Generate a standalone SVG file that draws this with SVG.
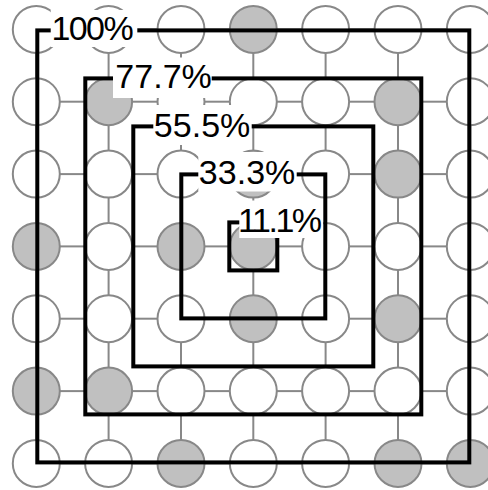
<svg xmlns="http://www.w3.org/2000/svg" width="488" height="490" viewBox="0 0 488 490">
<style>
.c{stroke:#888;stroke-width:2;fill:#fff}
.g{fill:#c0c0c0}
#connectors line{stroke:#888;stroke-width:2}
.sq{fill:none;stroke:#000;stroke-width:4;stroke-linejoin:miter}
.bg{fill:#fff}
.t{font-family:"Liberation Sans",Arial,Helvetica,sans-serif;font-size:34px;fill:#000}
</style>
<rect width="488" height="490" fill="#fff"/>
<g id="connectors">
<line x1="59.8" y1="29.4" x2="85.1" y2="29.4"/><line x1="132.1" y1="29.4" x2="157.5" y2="29.4"/><line x1="204.5" y1="29.4" x2="229.8" y2="29.4"/><line x1="276.8" y1="29.4" x2="302.1" y2="29.4"/><line x1="349.1" y1="29.4" x2="374.5" y2="29.4"/><line x1="421.5" y1="29.4" x2="446.8" y2="29.4"/>
<line x1="59.8" y1="101.7" x2="85.1" y2="101.7"/><line x1="132.1" y1="101.7" x2="157.5" y2="101.7"/><line x1="204.5" y1="101.7" x2="229.8" y2="101.7"/><line x1="276.8" y1="101.7" x2="302.1" y2="101.7"/><line x1="349.1" y1="101.7" x2="374.5" y2="101.7"/><line x1="421.5" y1="101.7" x2="446.8" y2="101.7"/>
<line x1="59.8" y1="174.1" x2="85.1" y2="174.1"/><line x1="132.1" y1="174.1" x2="157.5" y2="174.1"/><line x1="204.5" y1="174.1" x2="229.8" y2="174.1"/><line x1="276.8" y1="174.1" x2="302.1" y2="174.1"/><line x1="349.1" y1="174.1" x2="374.5" y2="174.1"/><line x1="421.5" y1="174.1" x2="446.8" y2="174.1"/>
<line x1="59.8" y1="246.4" x2="85.1" y2="246.4"/><line x1="132.1" y1="246.4" x2="157.5" y2="246.4"/><line x1="204.5" y1="246.4" x2="229.8" y2="246.4"/><line x1="276.8" y1="246.4" x2="302.1" y2="246.4"/><line x1="349.1" y1="246.4" x2="374.5" y2="246.4"/><line x1="421.5" y1="246.4" x2="446.8" y2="246.4"/>
<line x1="59.8" y1="318.7" x2="85.1" y2="318.7"/><line x1="132.1" y1="318.7" x2="157.5" y2="318.7"/><line x1="204.5" y1="318.7" x2="229.8" y2="318.7"/><line x1="276.8" y1="318.7" x2="302.1" y2="318.7"/><line x1="349.1" y1="318.7" x2="374.5" y2="318.7"/><line x1="421.5" y1="318.7" x2="446.8" y2="318.7"/>
<line x1="59.8" y1="391.1" x2="85.1" y2="391.1"/><line x1="132.1" y1="391.1" x2="157.5" y2="391.1"/><line x1="204.5" y1="391.1" x2="229.8" y2="391.1"/><line x1="276.8" y1="391.1" x2="302.1" y2="391.1"/><line x1="349.1" y1="391.1" x2="374.5" y2="391.1"/><line x1="421.5" y1="391.1" x2="446.8" y2="391.1"/>
<line x1="59.8" y1="463.4" x2="85.1" y2="463.4"/><line x1="132.1" y1="463.4" x2="157.5" y2="463.4"/><line x1="204.5" y1="463.4" x2="229.8" y2="463.4"/><line x1="276.8" y1="463.4" x2="302.1" y2="463.4"/><line x1="349.1" y1="463.4" x2="374.5" y2="463.4"/><line x1="421.5" y1="463.4" x2="446.8" y2="463.4"/>
<line x1="36.3" y1="52.9" x2="36.3" y2="78.2"/><line x1="36.3" y1="125.2" x2="36.3" y2="150.6"/><line x1="36.3" y1="197.6" x2="36.3" y2="222.9"/><line x1="36.3" y1="269.9" x2="36.3" y2="295.2"/><line x1="36.3" y1="342.2" x2="36.3" y2="367.6"/><line x1="36.3" y1="414.6" x2="36.3" y2="439.9"/>
<line x1="108.6" y1="52.9" x2="108.6" y2="78.2"/><line x1="108.6" y1="125.2" x2="108.6" y2="150.6"/><line x1="108.6" y1="197.6" x2="108.6" y2="222.9"/><line x1="108.6" y1="269.9" x2="108.6" y2="295.2"/><line x1="108.6" y1="342.2" x2="108.6" y2="367.6"/><line x1="108.6" y1="414.6" x2="108.6" y2="439.9"/>
<line x1="181" y1="52.9" x2="181" y2="78.2"/><line x1="181" y1="125.2" x2="181" y2="150.6"/><line x1="181" y1="197.6" x2="181" y2="222.9"/><line x1="181" y1="269.9" x2="181" y2="295.2"/><line x1="181" y1="342.2" x2="181" y2="367.6"/><line x1="181" y1="414.6" x2="181" y2="439.9"/>
<line x1="253.3" y1="52.9" x2="253.3" y2="78.2"/><line x1="253.3" y1="125.2" x2="253.3" y2="150.6"/><line x1="253.3" y1="197.6" x2="253.3" y2="222.9"/><line x1="253.3" y1="269.9" x2="253.3" y2="295.2"/><line x1="253.3" y1="342.2" x2="253.3" y2="367.6"/><line x1="253.3" y1="414.6" x2="253.3" y2="439.9"/>
<line x1="325.6" y1="52.9" x2="325.6" y2="78.2"/><line x1="325.6" y1="125.2" x2="325.6" y2="150.6"/><line x1="325.6" y1="197.6" x2="325.6" y2="222.9"/><line x1="325.6" y1="269.9" x2="325.6" y2="295.2"/><line x1="325.6" y1="342.2" x2="325.6" y2="367.6"/><line x1="325.6" y1="414.6" x2="325.6" y2="439.9"/>
<line x1="398" y1="52.9" x2="398" y2="78.2"/><line x1="398" y1="125.2" x2="398" y2="150.6"/><line x1="398" y1="197.6" x2="398" y2="222.9"/><line x1="398" y1="269.9" x2="398" y2="295.2"/><line x1="398" y1="342.2" x2="398" y2="367.6"/><line x1="398" y1="414.6" x2="398" y2="439.9"/>
<line x1="470.3" y1="52.9" x2="470.3" y2="78.2"/><line x1="470.3" y1="125.2" x2="470.3" y2="150.6"/><line x1="470.3" y1="197.6" x2="470.3" y2="222.9"/><line x1="470.3" y1="269.9" x2="470.3" y2="295.2"/><line x1="470.3" y1="342.2" x2="470.3" y2="367.6"/><line x1="470.3" y1="414.6" x2="470.3" y2="439.9"/>
</g>
<g id="nodes">
<g id="n0-0"><circle class="c" cx="36.3" cy="29.4" r="23.5"/></g>
<g id="n0-1"><circle class="c" cx="108.6" cy="29.4" r="23.5"/></g>
<g id="n0-2"><circle class="c" cx="181" cy="29.4" r="23.5"/></g>
<g id="n0-3"><circle class="c g" cx="253.3" cy="29.4" r="23.5"/></g>
<g id="n0-4"><circle class="c" cx="325.6" cy="29.4" r="23.5"/></g>
<g id="n0-5"><circle class="c" cx="398" cy="29.4" r="23.5"/></g>
<g id="n0-6"><circle class="c" cx="470.3" cy="29.4" r="23.5"/></g>
<g id="n1-0"><circle class="c" cx="36.3" cy="101.7" r="23.5"/></g>
<g id="n1-1"><circle class="c g" cx="108.6" cy="101.7" r="23.5"/></g>
<g id="n1-2"><circle class="c" cx="181" cy="101.7" r="23.5"/></g>
<g id="n1-3"><circle class="c" cx="253.3" cy="101.7" r="23.5"/></g>
<g id="n1-4"><circle class="c" cx="325.6" cy="101.7" r="23.5"/></g>
<g id="n1-5"><circle class="c g" cx="398" cy="101.7" r="23.5"/></g>
<g id="n1-6"><circle class="c" cx="470.3" cy="101.7" r="23.5"/></g>
<g id="n2-0"><circle class="c" cx="36.3" cy="174.1" r="23.5"/></g>
<g id="n2-1"><circle class="c" cx="108.6" cy="174.1" r="23.5"/></g>
<g id="n2-2"><circle class="c" cx="181" cy="174.1" r="23.5"/></g>
<g id="n2-3"><circle class="c g" cx="253.3" cy="174.1" r="23.5"/></g>
<g id="n2-4"><circle class="c" cx="325.6" cy="174.1" r="23.5"/></g>
<g id="n2-5"><circle class="c g" cx="398" cy="174.1" r="23.5"/></g>
<g id="n2-6"><circle class="c" cx="470.3" cy="174.1" r="23.5"/></g>
<g id="n3-0"><circle class="c g" cx="36.3" cy="246.4" r="23.5"/></g>
<g id="n3-1"><circle class="c" cx="108.6" cy="246.4" r="23.5"/></g>
<g id="n3-2"><circle class="c g" cx="181" cy="246.4" r="23.5"/></g>
<g id="n3-3"><circle class="c g" cx="253.3" cy="246.4" r="23.5"/></g>
<g id="n3-4"><circle class="c" cx="325.6" cy="246.4" r="23.5"/></g>
<g id="n3-5"><circle class="c" cx="398" cy="246.4" r="23.5"/></g>
<g id="n3-6"><circle class="c" cx="470.3" cy="246.4" r="23.5"/></g>
<g id="n4-0"><circle class="c" cx="36.3" cy="318.7" r="23.5"/></g>
<g id="n4-1"><circle class="c" cx="108.6" cy="318.7" r="23.5"/></g>
<g id="n4-2"><circle class="c" cx="181" cy="318.7" r="23.5"/></g>
<g id="n4-3"><circle class="c g" cx="253.3" cy="318.7" r="23.5"/></g>
<g id="n4-4"><circle class="c" cx="325.6" cy="318.7" r="23.5"/></g>
<g id="n4-5"><circle class="c g" cx="398" cy="318.7" r="23.5"/></g>
<g id="n4-6"><circle class="c" cx="470.3" cy="318.7" r="23.5"/></g>
<g id="n5-0"><circle class="c g" cx="36.3" cy="391.1" r="23.5"/></g>
<g id="n5-1"><circle class="c g" cx="108.6" cy="391.1" r="23.5"/></g>
<g id="n5-2"><circle class="c" cx="181" cy="391.1" r="23.5"/></g>
<g id="n5-3"><circle class="c" cx="253.3" cy="391.1" r="23.5"/></g>
<g id="n5-4"><circle class="c" cx="325.6" cy="391.1" r="23.5"/></g>
<g id="n5-5"><circle class="c" cx="398" cy="391.1" r="23.5"/></g>
<g id="n5-6"><circle class="c" cx="470.3" cy="391.1" r="23.5"/></g>
<g id="n6-0"><circle class="c" cx="36.3" cy="463.4" r="23.5"/></g>
<g id="n6-1"><circle class="c" cx="108.6" cy="463.4" r="23.5"/></g>
<g id="n6-2"><circle class="c g" cx="181" cy="463.4" r="23.5"/></g>
<g id="n6-3"><circle class="c" cx="253.3" cy="463.4" r="23.5"/></g>
<g id="n6-4"><circle class="c" cx="325.6" cy="463.4" r="23.5"/></g>
<g id="n6-5"><circle class="c g" cx="398" cy="463.4" r="23.5"/></g>
<g id="n6-6"><circle class="c g" cx="470.3" cy="463.4" r="23.5"/></g>
</g>
<g id="squares">
<rect class="sq" x="37.3" y="30.4" width="432" height="432"/>
<rect class="sq" x="85.3" y="78.4" width="336" height="336"/>
<rect class="sq" x="133.3" y="126.4" width="240" height="240"/>
<rect class="sq" x="181.3" y="174.4" width="144" height="144"/>
<rect class="sq" x="229.3" y="222.4" width="48" height="48"/>
</g>
<g id="label-100">
<rect class="bg" x="50.7" y="10" width="86.6" height="37"/>
<text class="t" x="51.4" y="40.3" textLength="82.3" lengthAdjust="spacing">100%</text>
</g>
<g id="label-77">
<rect class="bg" x="113" y="57.5" width="98.7" height="40.5"/>
<text class="t" x="115.3" y="88.3" textLength="96.5" lengthAdjust="spacing">77.7%</text>
</g>
<g id="label-55">
<rect class="bg" x="153.3" y="105" width="98.4" height="40"/>
<text class="t" x="153.8" y="136.7" textLength="96.5" lengthAdjust="spacing">55.5%</text>
</g>
<g id="label-33">
<rect class="bg" x="198.3" y="152" width="98.4" height="39.5"/>
<text class="t" x="198.8" y="183.5" textLength="96.5" lengthAdjust="spacing">33.3%</text>
</g>
<g id="label-11">
<rect class="bg" x="239.3" y="200.5" width="83.7" height="37.5"/>
<text class="t" x="238.1" y="231.7" textLength="84" lengthAdjust="spacing">11.1%</text>
</g>
</svg>
